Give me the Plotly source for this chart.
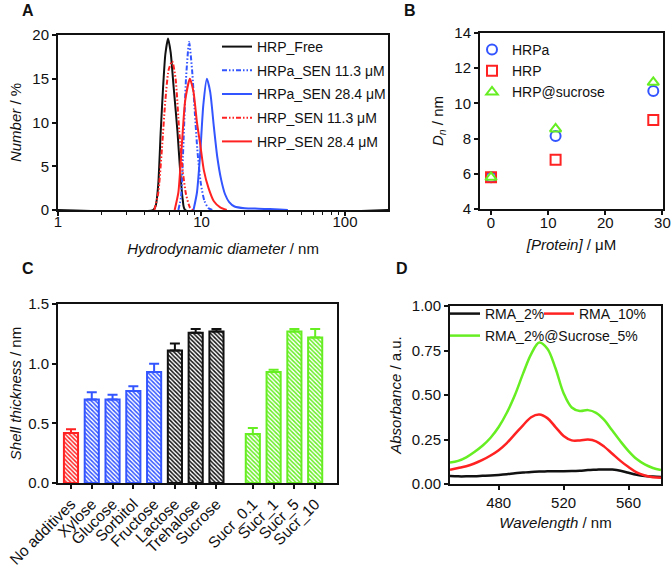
import plotly.graph_objects as go

# ---------------- Panel A : DLS number distributions ----------------
a_free_d = [1, 4.6, 4.8, 5.0, 5.2, 5.4, 5.6, 5.85, 6.1, 6.4, 6.8, 7.1, 7.4, 7.7, 200]
a_free_n = [0, 0, 0.5, 3, 9, 14, 17.8, 19.6, 18, 14, 9, 4.5, 1.2, 0, 0]

a_hrpa11_d = [6.9, 7.2, 7.5, 7.8, 8.2, 8.6, 9.0, 9.4, 9.9, 10.5, 11.2, 12]
a_hrpa11_n = [0, 1.5, 8, 15, 19.2, 16, 11, 6.5, 3, 1, 0.2, 0]

a_hrpa28_d = [8.8, 9.3, 9.8, 10.3, 10.9, 11.5, 12.2, 12.9, 13.7, 14.6, 15.6, 17, 20, 25, 30, 35, 40]
a_hrpa28_n = [0, 2, 6.5, 12, 15, 13.5, 9.5, 6, 3.5, 1.8, 0.9, 0.4, 0.2, 0.15, 0.1, 0.05, 0]

a_hrp11_d = [4.7, 5.0, 5.3, 5.6, 5.9, 6.25, 6.6, 7.0, 7.4, 7.8, 8.3, 8.7]
a_hrp11_n = [0, 2, 7, 12.5, 16, 17, 15, 9, 4.5, 1.8, 0.3, 0]

a_hrp28_d = [6.5, 6.9, 7.3, 7.7, 8.3, 8.8, 9.3, 9.8, 10.4, 11.2, 12.2, 13.5, 15]
a_hrp28_n = [0, 2, 7.5, 12.5, 15, 13.5, 10, 7.5, 4.5, 2.5, 1, 0.3, 0]

# ---------------- Panel B : Dn vs protein concentration ----------------
b_protein = [0, 11.3, 28.4]
b_hrpa = [5.8, 8.15, 10.7]
b_hrp = [5.8, 6.8, 9.05]
b_sucrose = [5.8, 8.55, 11.2]

# ---------------- Panel C : shell thickness ----------------
c_labels = ["No additives", "Xylose", "Glucose", "Sorbitol", "Fructose", "Lactose",
            "Trehalose", "Sucrose", "Sucr_0.1", "Sucr_1", "Sucr_5", "Sucr_10"]
c_values = [0.42, 0.70, 0.70, 0.77, 0.93, 1.11, 1.26, 1.27, 0.41, 0.93, 1.27, 1.22]
c_errors = [0.03, 0.06, 0.04, 0.04, 0.07, 0.06, 0.03, 0.02, 0.05, 0.02, 0.02, 0.07]
c_groups = ["red", "blue", "blue", "blue", "blue", "black", "black", "black",
            "green", "green", "green", "green"]

# ---------------- Panel D : absorbance spectra ----------------
d_wl = [450, 455, 460, 465, 470, 475, 480, 485, 490, 495, 500, 505, 510, 515,
        520, 525, 530, 535, 540, 545, 550, 555, 560, 565, 570, 575, 580]
d_rma2 = [0.045, 0.043, 0.043, 0.044, 0.046, 0.048, 0.051, 0.055, 0.060, 0.064,
          0.068, 0.070, 0.071, 0.072, 0.072, 0.073, 0.075, 0.078, 0.080, 0.082,
          0.081, 0.075, 0.063, 0.052, 0.045, 0.042, 0.040]
d_rma10 = [0.080, 0.090, 0.100, 0.115, 0.135, 0.160, 0.190, 0.230, 0.280, 0.330,
           0.375, 0.390, 0.370, 0.320, 0.270, 0.245, 0.245, 0.250, 0.240, 0.210,
           0.170, 0.130, 0.095, 0.065, 0.048, 0.038, 0.035]
d_rma2suc = [0.120, 0.130, 0.150, 0.180, 0.215, 0.260, 0.320, 0.400, 0.500, 0.620,
             0.730, 0.795, 0.760, 0.650, 0.510, 0.430, 0.410, 0.415, 0.400, 0.360,
             0.300, 0.240, 0.185, 0.140, 0.110, 0.090, 0.078]

RED = "#FF2222"
BLUE = "#3355FF"
GREEN = "#66EE22"
BLACK = "#111111"
COLORS = {"red": RED, "blue": BLUE, "green": GREEN, "black": BLACK}
FONT = "Liberation Sans, Arial, sans-serif"

W, H = 672, 567
def px_x(p):
    return p / W
def px_y(p):
    return 1 - p / H

fig = go.Figure()

# Panel A traces
dashdot = "5px,2px,1.5px,2px,1.5px,2px"
a_series = [
    (a_free_d, a_free_n, "HRP_Free", BLACK, "solid"),
    (a_hrpa11_d, a_hrpa11_n, "HRPa_SEN 11.3 μM", BLUE, dashdot),
    (a_hrpa28_d, a_hrpa28_n, "HRPa_SEN 28.4 μM", BLUE, "solid"),
    (a_hrp11_d, a_hrp11_n, "HRP_SEN 11.3 μM", RED, dashdot),
    (a_hrp28_d, a_hrp28_n, "HRP_SEN 28.4 μM", RED, "solid"),
]
for i, (xd, yd, nm, col, dash) in enumerate(a_series):
    fig.add_trace(go.Scatter(x=xd, y=yd, mode="lines", name=nm,
                             line=dict(color=col, width=2, dash=dash, shape="spline", smoothing=0.6),
                             xaxis="x", yaxis="y", legend="legend", legendgroup="a%d" % i))

# Panel B traces
b_series = [
    (b_hrpa, "HRPa", "circle-open", BLUE),
    (b_hrp, "HRP", "square-open", RED),
    (b_sucrose, "HRP@sucrose", "triangle-up-open", GREEN),
]
for i, (yd, nm, sym, col) in enumerate(b_series):
    fig.add_trace(go.Scatter(x=b_protein, y=yd, mode="markers", name=nm,
                             marker=dict(symbol=sym, size=10, color=col, line=dict(width=2, color=col)),
                             xaxis="x2", yaxis="y2", legend="legend2", legendgroup="b%d" % i))

# Panel C bars (layout positions: 8 bars, a gap, then 4 bars)
c_pos = [i for i in range(8)] + [8.75 + i for i in range(4)]
for g in ["red", "blue", "black", "green"]:
    idx = [i for i, gg in enumerate(c_groups) if gg == g]
    col = COLORS[g]
    fig.add_trace(go.Bar(x=[c_pos[i] for i in idx], y=[c_values[i] for i in idx], width=0.68,
                         marker=dict(color=col, line=dict(color=col, width=2),
                                     pattern=dict(shape="\\", size=3, solidity=0.5,
                                                  fgcolor=col, bgcolor="white", fillmode="replace")),
                         error_y=dict(type="data", symmetric=False, array=[c_errors[i] for i in idx],
                                      arrayminus=[0] * len(idx), color=col, thickness=2, width=5),
                         showlegend=False, xaxis="x3", yaxis="y3"))

# Panel D traces
d_series = [(d_rma2, "RMA_2%", BLACK, "legend3"), (d_rma10, "RMA_10%", RED, "legend5"),
            (d_rma2suc, "RMA_2%@Sucrose_5%", GREEN, "legend4")]
for yd, nm, col, lg in d_series:
    fig.add_trace(go.Scatter(x=d_wl, y=yd, mode="lines", name=nm,
                             line=dict(color=col, width=2.5, shape="spline"),
                             xaxis="x4", yaxis="y4", legend=lg))

axis_common = dict(showline=True, linecolor=BLACK, linewidth=2, mirror=True,
                   ticks="outside", ticklen=4, tickwidth=1.5, tickcolor=BLACK,
                   showgrid=False, zeroline=False, automargin=False,
                   tickfont=dict(family=FONT, size=15, color=BLACK))
title_font = dict(family=FONT, size=15, color=BLACK)
leg_font = dict(family=FONT, size=14, color=BLACK)
leg_common = dict(xanchor="left", yanchor="top", bgcolor="rgba(0,0,0,0)", font=leg_font)

fig.update_layout(
    width=W, height=H, margin=dict(l=0, r=0, t=0, b=0, autoexpand=False),
    paper_bgcolor="white", plot_bgcolor="white",
    font=dict(family=FONT, size=14, color=BLACK),
    barmode="overlay",
    xaxis=dict(axis_common, type="log", domain=[px_x(58), px_x(388)], range=[0, 2.3],
               tickvals=[1, 10, 100], ticktext=["1", "10", "100"], ticklabelstandoff=-7,
               minor=dict(ticks="outside", ticklen=3, tickwidth=1.2, tickcolor=BLACK,
                          tickvals=[2, 3, 4, 5, 6, 7, 8, 9, 20, 30, 40, 50, 60, 70, 80, 90, 200]),
               title=dict(text="<i>Hydrodynamic diameter</i> / nm", font=title_font, standoff=14),
               anchor="y"),
    yaxis=dict(axis_common, domain=[px_y(210), px_y(35)], range=[0, 20], dtick=5,
               title=dict(text="<i>Number</i> / %", font=title_font, standoff=7), anchor="x"),
    xaxis2=dict(axis_common, domain=[px_x(480), px_x(663)], range=[-1.93, 30.1], dtick=10,
                ticklabelstandoff=-5,
                title=dict(text="<i>[Protein]</i> / μM", font=title_font, standoff=9), anchor="y2"),
    yaxis2=dict(axis_common, domain=[px_y(209), px_y(33)], range=[4, 14], dtick=2,
                title=dict(text="<i>D<sub>n</sub></i> / nm", font=title_font, standoff=7), anchor="x2"),
    xaxis3=dict(axis_common, domain=[px_x(58), px_x(337)], range=[-0.625, 12.8],
                tickvals=c_pos, ticktext=c_labels, tickangle=-45, anchor="y3",
                tickfont=dict(family=FONT, size=15.5, color=BLACK)),
    yaxis3=dict(axis_common, domain=[px_y(483), px_y(304)], range=[0, 1.5], dtick=0.5,
                tickformat=".1f",
                title=dict(text="<i>Shell thickness</i> / nm", font=title_font, standoff=3), anchor="x3"),
    xaxis4=dict(axis_common, domain=[px_x(450), px_x(661)], range=[450, 580],
                tickvals=[480, 520, 560],
                title=dict(text="<i>Wavelength</i> / nm", font=title_font, standoff=7), anchor="y4"),
    yaxis4=dict(axis_common, domain=[px_y(484), px_y(306)], range=[0, 1.0], dtick=0.25,
                tickformat=".2f",
                title=dict(text="<i>Absorbance</i> / a.u.", font=title_font, standoff=7), anchor="x4"),
    legend=dict(leg_common, x=px_x(217), y=px_y(31), tracegroupgap=2.5, traceorder="grouped"),
    legend2=dict(leg_common, x=px_x(472), y=px_y(34), tracegroupgap=0, traceorder="grouped"),
    legend3=dict(leg_common, x=px_x(445), y=px_y(298)),
    legend5=dict(leg_common, x=px_x(539), y=px_y(298)),
    legend4=dict(leg_common, x=px_x(445), y=px_y(320)),
)

for label, x, y in [("A", 28, 10), ("B", 410, 10), ("C", 28, 268), ("D", 402, 268)]:
    fig.add_annotation(text="<b>%s</b>" % label, x=px_x(x), y=px_y(y), xref="paper", yref="paper",
                       showarrow=False, xanchor="center", yanchor="middle",
                       font=dict(family=FONT, size=16, color=BLACK))

fig.write_html("out.html", config={"displayModeBar": False},
               post_script="document.body.style.margin='0px';")
